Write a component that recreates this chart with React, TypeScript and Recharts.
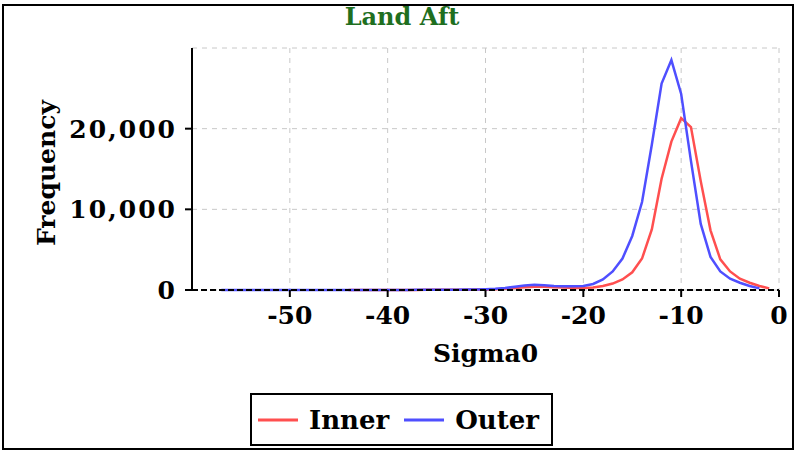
import React from "react";
import { CartesianGrid, Legend, Line, LineChart, XAxis, YAxis } from "recharts";

const sigma = [
  -57, -56, -55, -54, -53, -52, -51, -50, -49, -48, -47, -46, -45, -44, -43, -42, -41, -40, -39,
  -38, -37, -36, -35, -34, -33, -32, -31, -30, -29, -28, -27, -26, -25, -24, -23, -22, -21, -20,
  -19, -18, -17, -16, -15, -14, -13, -12, -11, -10, -9, -8, -7, -6, -5, -4, -3, -2, -1,
];

const inner = [
  null, null, null, null, null, null, null, null, null, null, null, null, null, 5, 5, 5, 10, 10, 10,
  15, 15, 20, 20, 25, 30, 40, 50, 60, 100, 150, 250, 350, 400, 400, 350, 300, 250, 250,
  300, 500, 800, 1300, 2200, 3900, 7500, 13800, 18400, 21300, 20200, 13500, 7400, 3800, 2300, 1400, 900, 500, 200,
];

const outer = [
  0, 0, 0, 0, 0, 0, 0, 0, 0, 0, 0, 5, 5, 5, 5, 10, 10, 10, 15,
  15, 20, 25, 30, 35, 45, 55, 70, 100, 150, 250, 400, 550, 650, 600, 500, 450, 450, 500,
  750, 1300, 2300, 3900, 6700, 10900, 18000, 25600, 28500, 24300, 16000, 8200, 4100, 2300, 1400, 900, 500, 200, null,
];

const xTicks = [-50, -40, -30, -20, -10, 0];
const yTicks = [0, 10000, 20000];

const data = sigma.map((x, i) => ({ x, Inner: inner[i], Outer: outer[i] }));

const FONT = "'DejaVu Serif', serif";
const RED = "#ff4f4f";
const BLUE = "#4f4fff";

const renderLegend = (props: any) => {
  const { payload } = props;
  return (
    <div style={{ height: 57, paddingLeft: 250, paddingTop: 3, boxSizing: "border-box" }}>
      <div
        style={{
          width: 303,
          height: 53,
          border: "2px solid #000",
          boxSizing: "border-box",
          display: "flex",
          alignItems: "center",
          paddingLeft: 6,
          fontFamily: FONT,
          fontWeight: "bold",
          fontSize: 26,
          color: "#000",
        }}
      >
        {(payload || []).map((entry: any) => (
          <div key={entry.value} style={{ display: "flex", alignItems: "center", marginRight: 15 }}>
            <svg width={40} height={4} style={{ marginRight: 11 }}>
              <line x1={0} y1={2} x2={40} y2={2} stroke={entry.color} strokeWidth={3} />
            </svg>
            <span>{entry.value}</span>
          </div>
        ))}
      </div>
    </div>
  );
};

export default function App() {
  return (
    <div style={{ position: "absolute", left: 0, top: 0, width: 796, height: 450, background: "#fff" }}>
      <div
        style={{
          position: "absolute",
          left: 2,
          top: 4,
          width: 792,
          height: 446,
          border: "2px solid #000",
          boxSizing: "border-box",
        }}
      />
      <div
        style={{
          position: "absolute",
          left: 0,
          top: 2,
          width: 804,
          textAlign: "center",
          fontFamily: FONT,
          fontWeight: "bold",
          fontSize: 24,
          color: "#1f6f1f",
        }}
      >
        Land Aft
      </div>
      <LineChart width={796} height={450} data={data} margin={{ top: 48, right: 17, left: 0, bottom: 3 }}>
        <CartesianGrid stroke="#c8c8c8" strokeDasharray="5 5" />
        <XAxis
          dataKey="x"
          type="number"
          domain={[-60, 0]}
          ticks={xTicks}
          height={100}
          tickSize={7}
          tickMargin={9}
          axisLine={{ stroke: "#000", strokeWidth: 2, strokeDasharray: "6 3" }}
          tickLine={{ stroke: "#000", strokeWidth: 2 }}
          tick={{ fill: "#000", fontSize: 25, fontWeight: "bold", fontFamily: FONT }}
          label={{
            content: ({ viewBox }: any) => (
              <text
                x={viewBox.x + viewBox.width / 2}
                y={viewBox.y + 72}
                textAnchor="middle"
                fontFamily={FONT}
                fontWeight="bold"
                fontSize={25}
                fill="#000"
              >
                Sigma0
              </text>
            ),
          }}
        />
        <YAxis
          type="number"
          domain={[0, 30000]}
          ticks={yTicks}
          width={192}
          tickSize={7}
          tickMargin={8}
          tickFormatter={(v: number) => v.toLocaleString("en-US")}
          axisLine={{ stroke: "#000", strokeWidth: 2 }}
          tickLine={{ stroke: "#000", strokeWidth: 2 }}
          tick={{ fill: "#000", fontSize: 25, fontWeight: "bold", fontFamily: FONT, letterSpacing: 2 }}
          label={{
            content: ({ viewBox }: any) => {
              const cx = 55;
              const cy = viewBox.y + viewBox.height / 2 + 4;
              return (
                <text
                  x={cx}
                  y={cy}
                  transform={`rotate(-90 ${cx} ${cy})`}
                  textAnchor="middle"
                  fontFamily={FONT}
                  fontWeight="bold"
                  fontSize={25}
                  fill="#000"
                >
                  Frequency
                </text>
              );
            },
          }}
        />
        <Legend verticalAlign="bottom" content={renderLegend} />
        <Line
          type="linear"
          dataKey="Inner"
          stroke={RED}
          strokeWidth={2.5}
          dot={false}
          isAnimationActive={false}
        />
        <Line
          type="linear"
          dataKey="Outer"
          stroke={BLUE}
          strokeWidth={2.5}
          dot={false}
          isAnimationActive={false}
        />
      </LineChart>
    </div>
  );
}
